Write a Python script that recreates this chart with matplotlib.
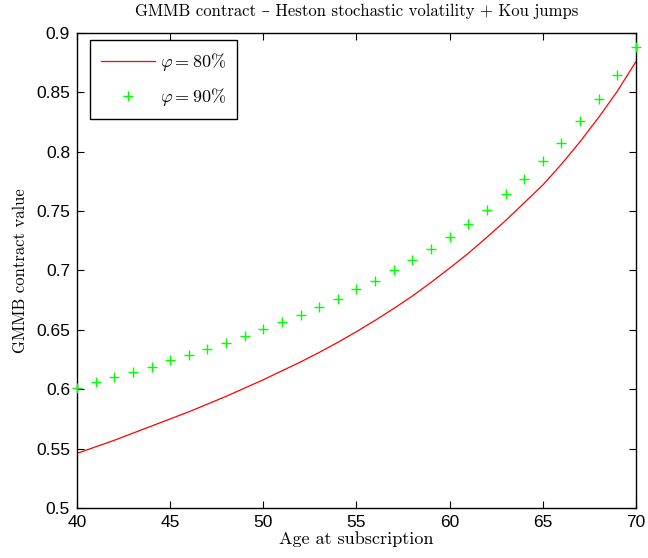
import numpy as np
import matplotlib
matplotlib.use("Agg")
import matplotlib.pyplot as plt

plt.rcParams["mathtext.fontset"] = "cm"

# Age at subscription
ages = list(range(40, 71))

# phi = 80% (solid red curve)
value_80 = [0.546, 0.5515, 0.557, 0.563, 0.569, 0.575, 0.581, 0.5875, 0.594, 0.601,
            0.608, 0.6155, 0.623, 0.631, 0.6395, 0.6485, 0.658, 0.668, 0.6785, 0.690,
            0.702, 0.7145, 0.728, 0.742, 0.757, 0.772, 0.7895, 0.8085, 0.829, 0.851,
            0.876]

# phi = 90% (green plus markers)
value_90 = [0.601, 0.606, 0.610, 0.6145, 0.619, 0.6246, 0.629, 0.634, 0.639, 0.645,
            0.651, 0.657, 0.6625, 0.669, 0.676, 0.684, 0.691, 0.700, 0.709, 0.718,
            0.7285, 0.7394, 0.7507, 0.764, 0.777, 0.792, 0.8076, 0.826, 0.844, 0.865,
            0.888]

x_ticks = [40, 45, 50, 55, 60, 65, 70]
y_ticks = [0.5, 0.55, 0.6, 0.65, 0.7, 0.75, 0.8, 0.85, 0.9]

serif = ["cmr10", "DejaVu Serif"]

fig = plt.figure(figsize=(6.48, 5.58), dpi=100)
ax = fig.add_axes([0.1188, 0.0896, 0.8627, 0.8513])

ax.plot(ages, value_80, color="red", linewidth=0.9, label=r"$\varphi = 80\%$")
ax.plot(ages, value_90, linestyle="none", marker="+", markersize=7,
        markeredgewidth=1.0, color="#00ff00", label=r"$\varphi = 90\%$",
        clip_on=False, zorder=3)

ax.set_xlim(40, 70)
ax.set_ylim(0.5, 0.9)
ax.set_xticks(x_ticks)
ax.set_yticks(y_ticks)
ax.set_xticklabels([str(t) for t in x_ticks])
ax.set_yticklabels(["0.5", "0.55", "0.6", "0.65", "0.7", "0.75", "0.8", "0.85", "0.9"])
ax.tick_params(direction="in", top=True, right=True, length=5, width=0.8,
               labelsize=12.5, pad=5)
for lab in ax.get_xticklabels() + ax.get_yticklabels():
    lab.set_family("Liberation Sans")
for sp in ax.spines.values():
    sp.set_linewidth(1.0)

ax.set_title("GMMB contract \u2013 Heston stochastic volatility + Kou jumps",
             family=serif, fontsize=12, pad=12)
ax.set_xlabel("Age at subscription", family=serif, fontsize=13, labelpad=1)
ax.set_ylabel("GMMB contract value", family=serif, fontsize=12, labelpad=6)

leg = ax.legend(loc="upper left", bbox_to_anchor=(0.0233, 0.985), borderaxespad=0,
                fontsize=13, numpoints=1, handlelength=3.0,
                fancybox=False, edgecolor="black", framealpha=1,
                borderpad=0.6, labelspacing=0.75, handletextpad=0.3)
leg.get_frame().set_linewidth(1.0)

fig.savefig("out.png", dpi=100)
